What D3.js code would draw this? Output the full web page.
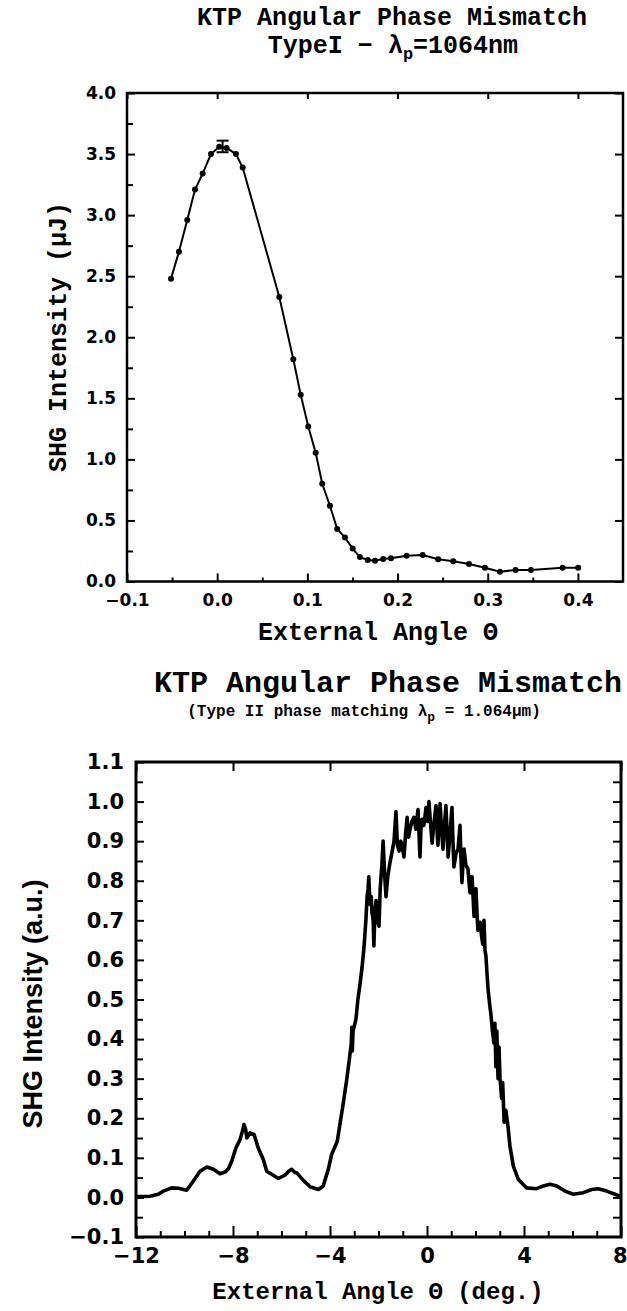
<!DOCTYPE html>
<html>
<head>
<meta charset="utf-8">
<script src="https://cdn.jsdelivr.net/npm/d3@7"></script>
<style>
  body { margin: 0; background: #fff; }
  svg { display: block; }
</style>
</head>
<body>
<svg id="chart" width="627" height="1311"></svg>
<script>
// Type I scan (upper plot): external angle vs SHG energy
const angleI = [-0.0512, -0.0424, -0.0332, -0.0246, -0.0161, -0.0069, 0.0023, 0.0105, 0.0208, 0.0283,
  0.0689, 0.0844, 0.0926, 0.101, 0.1092, 0.1165, 0.125, 0.1331, 0.1417, 0.1502, 0.1583, 0.1669,
  0.175, 0.1841, 0.1927, 0.2101, 0.2278, 0.2451, 0.2618, 0.2792, 0.2969, 0.3135, 0.3309, 0.3479,
  0.383, 0.4003];
const shgI = [2.48, 2.70, 2.96, 3.21, 3.34, 3.50, 3.56, 3.55, 3.50, 3.39,
  2.33, 1.82, 1.53, 1.27, 1.055, 0.80, 0.62, 0.43, 0.36, 0.27, 0.20, 0.176,
  0.17, 0.184, 0.19, 0.21, 0.217, 0.182, 0.165, 0.143, 0.113, 0.08, 0.094, 0.094,
  0.113, 0.113];
// one error bar at the peak
const errAngle = [0.006];
const errLow = [3.515];
const errHigh = [3.61];

// Type II scan (lower plot)
const angleII = [-12.0, -11.42, -11.08, -10.87, -10.53, -10.25, -9.91, -9.64, -9.36, -9.08, -8.81, -8.54,
  -8.33, -8.19, -8.05, -7.88, -7.71, -7.60, -7.55, -7.48, -7.43, -7.30, -7.13, -6.96, -6.75, -6.61,
  -6.34, -6.13, -5.86, -5.70, -5.58, -5.45, -5.37, -5.10, -4.82, -4.48, -4.28, -4.20, -4.07, -3.93,
  -3.70, -3.56, -3.45, -3.31, -3.20, -3.12, -3.10, -3.08, -3.05, -2.93, -2.85, -2.76, -2.68, -2.60,
  -2.52, -2.47, -2.43, -2.40, -2.35, -2.30, -2.27, -2.22, -2.19, -2.15, -2.10, -2.05, -1.98, -1.93,
  -1.86, -1.81, -1.75, -1.69, -1.62, -1.53, -1.45, -1.36, -1.28, -1.22, -1.15, -1.08, -1.03, -0.95,
  -0.88, -0.82, -0.76, -0.70, -0.62, -0.54, -0.46, -0.37, -0.33, -0.29, -0.25, -0.21, -0.13, -0.04,
  0.02, 0.08, 0.14, 0.21, 0.28, 0.37, 0.42, 0.45, 0.50, 0.54, 0.60, 0.66, 0.72, 0.78, 0.83, 0.87,
  0.95, 1.03, 1.07, 1.11, 1.20, 1.28, 1.36, 1.40, 1.44, 1.49, 1.53, 1.60, 1.69, 1.73, 1.77, 1.82,
  1.86, 1.90, 1.94, 1.98, 2.02, 2.06, 2.10, 2.15, 2.19, 2.25, 2.30, 2.35, 2.39, 2.43, 2.48, 2.52,
  2.58, 2.64, 2.70, 2.76, 2.80, 2.84, 2.88, 2.93, 2.97, 3.01, 3.08, 3.12, 3.18, 3.25, 3.34, 3.42,
  3.56, 3.77, 4.11, 4.52, 4.80, 5.07, 5.35, 5.69, 6.03, 6.45, 6.79, 7.06, 7.41, 7.75, 8.0];
const shgII = [0.002, 0.003, 0.008, 0.016, 0.024, 0.023, 0.018, 0.041, 0.066, 0.077, 0.071, 0.060,
  0.064, 0.072, 0.092, 0.125, 0.146, 0.170, 0.184, 0.172, 0.150, 0.163, 0.159, 0.125, 0.096, 0.066,
  0.056, 0.048, 0.056, 0.066, 0.071, 0.063, 0.062, 0.043, 0.027, 0.020, 0.029, 0.045, 0.071, 0.109,
  0.142, 0.197, 0.239, 0.298, 0.35, 0.39, 0.43, 0.37, 0.42, 0.45, 0.50, 0.54, 0.58, 0.63,
  0.70, 0.76, 0.78, 0.81, 0.74, 0.76, 0.72, 0.70, 0.635, 0.72, 0.75, 0.70, 0.685, 0.78,
  0.84, 0.90, 0.82, 0.76, 0.81, 0.845, 0.87, 0.90, 0.975, 0.89, 0.875, 0.90, 0.89, 0.86,
  0.92, 0.96, 0.91, 0.93, 0.95, 0.96, 0.93, 0.98, 0.92, 0.86, 0.93, 0.955, 0.94, 0.985,
  0.95, 1.00, 0.95, 0.895, 0.94, 0.99, 0.92, 0.89, 0.95, 0.995, 0.93, 0.88, 0.94, 0.99, 0.92, 0.86,
  0.92, 0.985, 0.90, 0.835, 0.87, 0.88, 0.94, 0.86, 0.795, 0.85, 0.88, 0.84, 0.83, 0.80, 0.77, 0.81,
  0.81, 0.76, 0.71, 0.76, 0.78, 0.72, 0.675, 0.69, 0.695, 0.66, 0.64, 0.70, 0.625, 0.61, 0.56, 0.525,
  0.49, 0.46, 0.42, 0.39, 0.44, 0.33, 0.42, 0.30, 0.38, 0.30, 0.25, 0.29, 0.19, 0.22, 0.18, 0.13,
  0.079, 0.045, 0.024, 0.022, 0.029, 0.033, 0.029, 0.016, 0.008, 0.012, 0.020, 0.022, 0.016, 0.008, 0.002];

const yTicksI = [0, 0.5, 1.0, 1.5, 2.0, 2.5, 3.0, 3.5, 4.0];
const xTicksI = [-0.1, 0.0, 0.1, 0.2, 0.3, 0.4];
const yTicksII = [-0.1, 0, 0.1, 0.2, 0.3, 0.4, 0.5, 0.6, 0.7, 0.8, 0.9, 1.0, 1.1];
const xTicksII = [-12, -8, -4, 0, 4, 8];

const svg = d3.select("#chart");
const mono = "'Liberation Mono', 'DejaVu Sans Mono', monospace";
const tickFont = "'DejaVu Sans', sans-serif";

function styleAxis(g, size, weight) {
  g.select(".domain").remove();
  g.selectAll("line").attr("stroke", "#000").attr("stroke-width", 2);
  g.selectAll("text")
    .attr("font-family", tickFont)
    .attr("font-size", size)
    .attr("font-weight", weight)
    .attr("fill", "#000");
}

// ---------- upper plot ----------
const x1 = d3.scaleLinear().domain([-0.1, 0.45]).range([127, 623]);
const y1 = d3.scaleLinear().domain([0, 4]).range([581.5, 93]);

svg.append("g").attr("transform", "translate(0,581.5)")
  .call(d3.axisBottom(x1).tickValues(d3.range(-0.05, 0.45, 0.1)).tickSizeInner(-4).tickSizeOuter(0).tickFormat(""))
  .call(g => styleAxis(g, 17, "bold"));
svg.append("g").attr("transform", "translate(0,581.5)")
  .call(d3.axisBottom(x1).tickValues(xTicksI).tickSizeInner(-8).tickSizeOuter(0).tickPadding(12)
    .tickFormat(d => d3.format(".1f")(d).replace("-", "\u2212")))
  .call(g => styleAxis(g, 17, "bold"));
svg.append("g").attr("transform", "translate(0,93)")
  .call(d3.axisTop(x1).tickValues(xTicksI).tickSizeInner(-6).tickSizeOuter(0).tickFormat(""))
  .call(g => styleAxis(g, 17, "bold"));
svg.append("g").attr("transform", "translate(127,0)")
  .call(d3.axisLeft(y1).tickValues(d3.range(0.25, 4, 0.5)).tickSizeInner(-6).tickSizeOuter(0).tickFormat(""))
  .call(g => styleAxis(g, 17, "bold"));
svg.append("g").attr("transform", "translate(127,0)")
  .call(d3.axisLeft(y1).tickValues(yTicksI).tickSizeInner(-8).tickSizeOuter(0).tickPadding(11).tickFormat(d3.format(".1f")))
  .call(g => styleAxis(g, 17, "bold"));
svg.append("g").attr("transform", "translate(623,0)")
  .call(d3.axisRight(y1).tickValues(yTicksI).tickSizeInner(-8).tickSizeOuter(0).tickFormat(""))
  .call(g => styleAxis(g, 17, "bold"));

svg.append("rect")
  .attr("x", x1(-0.1)).attr("y", y1(4))
  .attr("width", x1(0.45) - x1(-0.1)).attr("height", y1(0) - y1(4))
  .attr("fill", "none").attr("stroke", "#000").attr("stroke-width", 2.5);

const ptsI = angleI.map((a, i) => [a, shgI[i]]);
svg.append("path")
  .datum(ptsI)
  .attr("fill", "none").attr("stroke", "#000").attr("stroke-width", 2)
  .attr("d", d3.line().x(d => x1(d[0])).y(d => y1(d[1])));
svg.append("g").selectAll("circle")
  .data(ptsI)
  .enter().append("circle")
  .attr("cx", d => x1(d[0])).attr("cy", d => y1(d[1]))
  .attr("r", 3).attr("fill", "#000");

const errG = svg.append("g").attr("stroke", "#000").attr("stroke-width", 2);
errAngle.forEach((a, i) => {
  errG.append("line").attr("x1", x1(a)).attr("x2", x1(a)).attr("y1", y1(errLow[i])).attr("y2", y1(errHigh[i]));
  errG.append("line").attr("x1", x1(a) - 6).attr("x2", x1(a) + 6).attr("y1", y1(errHigh[i])).attr("y2", y1(errHigh[i]));
  errG.append("line").attr("x1", x1(a) - 6).attr("x2", x1(a) + 6).attr("y1", y1(errLow[i])).attr("y2", y1(errLow[i]));
});

svg.append("text").attr("x", 392).attr("y", 25).attr("text-anchor", "middle")
  .attr("font-family", mono).attr("font-weight", "bold").attr("font-size", 25)
  .text("KTP Angular Phase Mismatch");
const sub1 = svg.append("text").attr("x", 393).attr("y", 53).attr("text-anchor", "middle")
  .attr("font-family", mono).attr("font-weight", "bold").attr("font-size", 25);
sub1.append("tspan").text("TypeI \u2212 \u03bb");
sub1.append("tspan").attr("dy", 6).attr("font-size", 17).text("p");
sub1.append("tspan").attr("dy", -6).text("=1064nm");

svg.append("text").attr("transform", "translate(66,337) rotate(-90)").attr("text-anchor", "middle")
  .attr("font-family", mono).attr("font-weight", "bold").attr("font-size", 25)
  .text("SHG Intensity (\u03bcJ)");
svg.append("text").attr("x", 378).attr("y", 640).attr("text-anchor", "middle")
  .attr("font-family", mono).attr("font-weight", "bold").attr("font-size", 25)
  .text("External Angle \u0398");

// ---------- lower plot ----------
const x2 = d3.scaleLinear().domain([-12, 8]).range([136, 621]);
const y2 = d3.scaleLinear().domain([-0.1, 1.1]).range([1237, 762]);
const minus = s => String(s).replace("-", "\u2212");

svg.append("g").attr("transform", "translate(0,1237)")
  .call(d3.axisBottom(x2).tickValues(d3.range(-11, 8, 1).filter(v => v % 4 !== 0)).tickSizeInner(-6).tickSizeOuter(0).tickFormat(""))
  .call(g => styleAxis(g, 21, "bold"));
svg.append("g").attr("transform", "translate(0,1237)")
  .call(d3.axisBottom(x2).tickValues(xTicksII).tickSizeInner(-11).tickSizeOuter(0).tickPadding(11).tickFormat(minus))
  .call(g => styleAxis(g, 21, "bold"))
  // last label sits on the page edge; pull it inside
  .call(g => g.selectAll(".tick").filter(d => d === 8).select("text").attr("text-anchor", "end").attr("dx", 6));
svg.append("g").attr("transform", "translate(0,762)")
  .call(d3.axisTop(x2).tickValues(xTicksII).tickSizeInner(-9).tickSizeOuter(0).tickFormat(""))
  .call(g => styleAxis(g, 21, "bold"));
svg.append("g").attr("transform", "translate(136,0)")
  .call(d3.axisLeft(y2).tickValues(d3.range(-0.05, 1.1, 0.1)).tickSizeInner(-7).tickSizeOuter(0).tickFormat(""))
  .call(g => styleAxis(g, 21, "bold"));
svg.append("g").attr("transform", "translate(136,0)")
  .call(d3.axisLeft(y2).tickValues(yTicksII).tickSizeInner(-8).tickSizeOuter(0).tickPadding(12)
    .tickFormat(d => minus(d3.format(".1f")(d))))
  .call(g => styleAxis(g, 21, "bold"));
svg.append("g").attr("transform", "translate(621,0)")
  .call(d3.axisRight(y2).tickValues(d3.range(-0.05, 1.1, 0.05)).tickSizeInner(-8).tickSizeOuter(0).tickFormat(""))
  .call(g => styleAxis(g, 21, "bold"));

svg.append("rect")
  .attr("x", x2(-12)).attr("y", y2(1.1))
  .attr("width", x2(8) - x2(-12)).attr("height", y2(-0.1) - y2(1.1))
  .attr("fill", "none").attr("stroke", "#000").attr("stroke-width", 3);

svg.append("path")
  .datum(angleII.map((a, i) => [a, shgII[i]]))
  .attr("fill", "none").attr("stroke", "#000").attr("stroke-width", 3.6)
  .attr("stroke-linejoin", "round")
  .attr("d", d3.line().x(d => x2(d[0])).y(d => y2(d[1])));

svg.append("text").attr("x", 388).attr("y", 692).attr("text-anchor", "middle")
  .attr("font-family", mono).attr("font-weight", "bold").attr("font-size", 30)
  .text("KTP Angular Phase Mismatch");
const sub2 = svg.append("text").attr("x", 364).attr("y", 716).attr("text-anchor", "middle")
  .attr("font-family", mono).attr("font-weight", "bold").attr("font-size", 16);
sub2.append("tspan").text("(Type II phase matching \u03bb");
sub2.append("tspan").attr("dy", 5).attr("font-size", 13).text("p");
sub2.append("tspan").attr("dy", -5).text(" = 1.064\u03bcm)");

svg.append("text").attr("transform", "translate(42,1004) rotate(-90)").attr("text-anchor", "middle")
  .attr("font-family", "'Liberation Sans', Arial, sans-serif").attr("font-weight", "bold").attr("font-size", 27)
  .text("SHG Intensity (a.u.)");
svg.append("text").attr("x", 378).attr("y", 1299).attr("text-anchor", "middle")
  .attr("font-family", mono).attr("font-weight", "bold").attr("font-size", 24)
  .text("External Angle \u0398 (deg.)");
</script>
</body>
</html>
